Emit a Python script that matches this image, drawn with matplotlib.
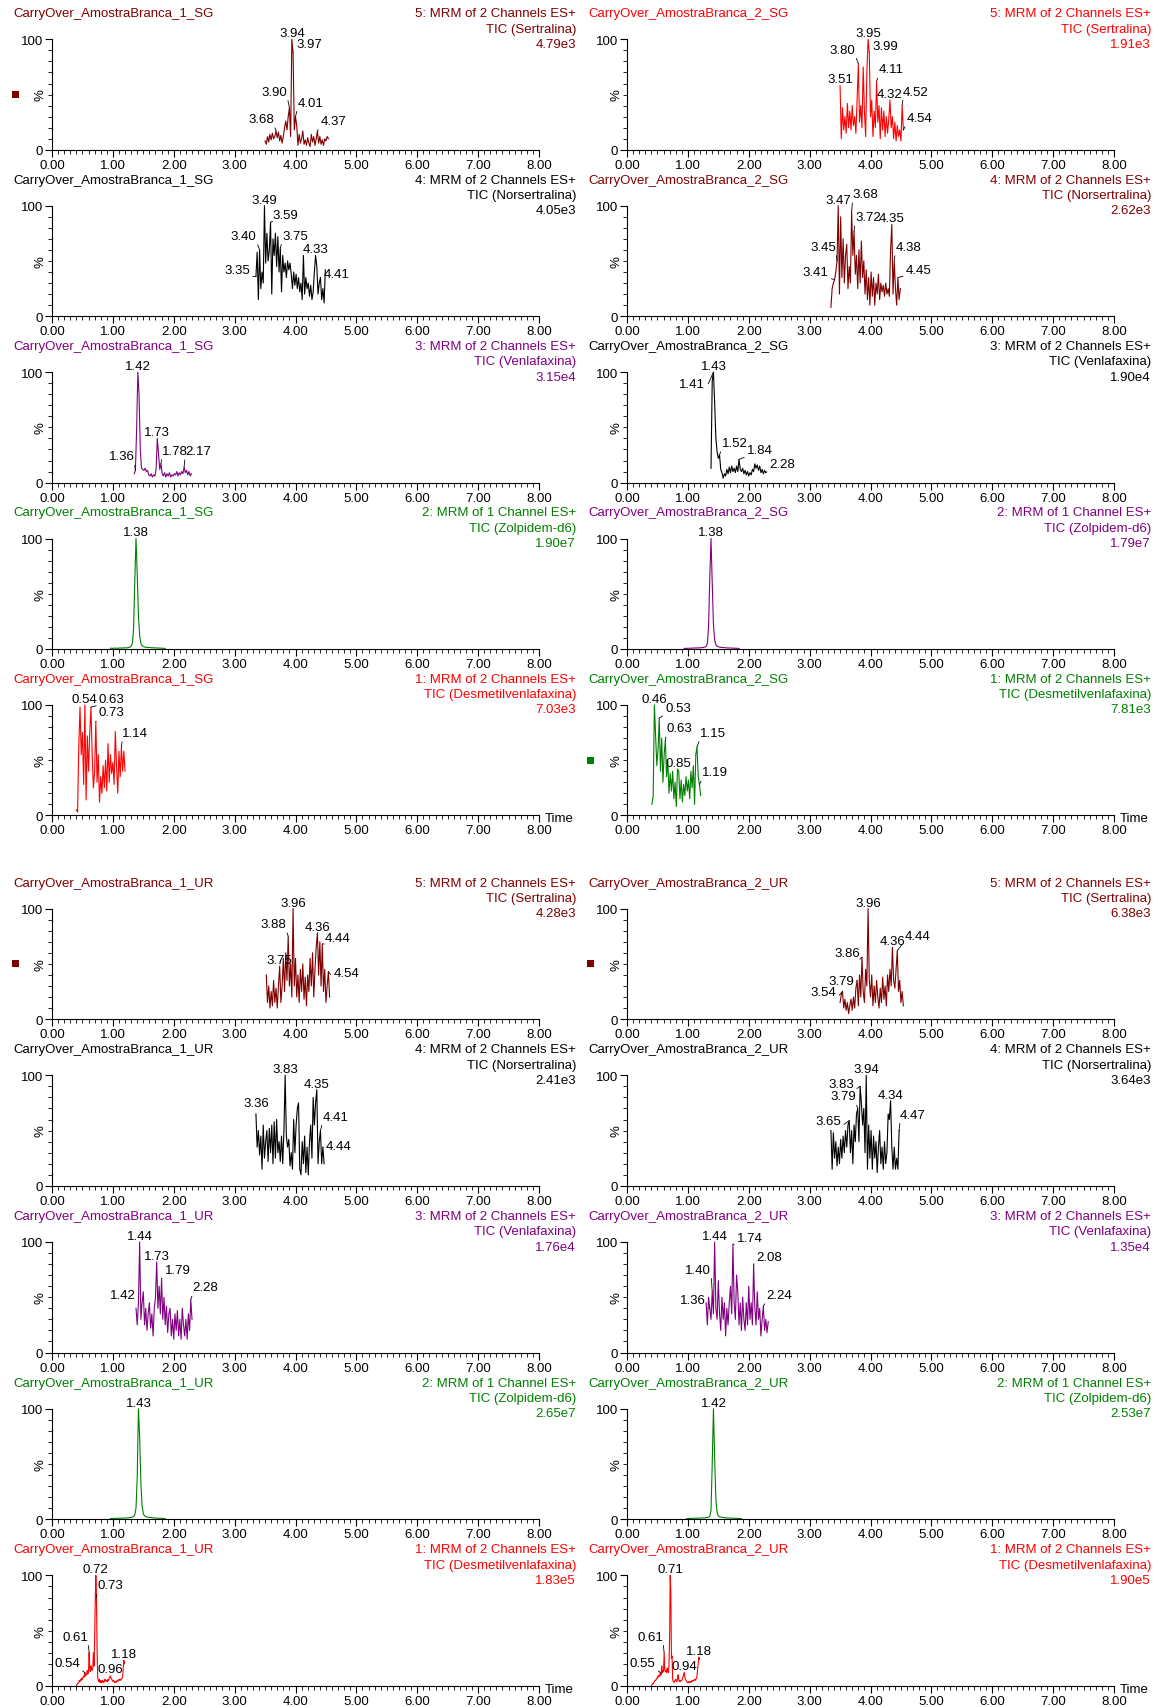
import matplotlib
matplotlib.use('Agg')
import matplotlib.pyplot as plt
from matplotlib.patches import Rectangle
import numpy as np

plt.rcParams['font.family'] = ['Liberation Sans', 'DejaVu Sans']

# ---------------- data (relative intensity %, scan times in min) ----------------
t_sert_1sg = (3.50, 4.54)
sert_1sg = [8, 5, 12, 7, 14, 9, 15, 10, 12, 17, 11, 16, 8, 13, 6, 12, 20, 26, 18, 30,
            38, 12, 100, 88, 18, 30, 22, 4, 14, 6, 10, 17, 5, 9, 4, 11, 6, 3, 14, 7,
            12, 4, 10, 17, 6, 12, 5, 9, 4, 10, 8, 12, 10]
t_sert_2sg = (3.50, 4.54)
sert_2sg = [58, 10, 38, 18, 30, 15, 42, 20, 35, 18, 40, 22, 30, 15, 45, 78, 25, 40, 20, 75,
            35, 12, 70, 100, 88, 30, 45, 12, 35, 20, 62, 25, 40, 10, 38, 18, 35, 12, 30, 15,
            28, 45, 20, 30, 10, 25, 8, 22, 12, 18, 8, 40, 18]
t_nors_1sg = (3.35, 4.49)
nors_1sg = [36, 58, 15, 60, 25, 40, 30, 100, 48, 75, 50, 60, 85, 20, 70, 55, 75, 45, 72, 40,
            62, 22, 55, 40, 48, 35, 50, 42, 48, 38, 25, 40, 28, 38, 25, 35, 22, 30, 15, 55,
            20, 35, 25, 30, 18, 28, 15, 22, 40, 55, 45, 20, 30, 35, 15, 25, 12, 42]
t_nors_2sg = (3.35, 4.49)
nors_2sg = [8, 25, 30, 33, 40, 50, 100, 20, 90, 35, 70, 30, 55, 65, 25, 45, 30, 95, 55, 77,
            38, 55, 25, 60, 30, 68, 35, 50, 20, 42, 15, 35, 10, 40, 18, 35, 10, 30, 20, 38,
            15, 30, 22, 28, 18, 30, 20, 25, 18, 60, 83, 20, 50, 25, 10, 35, 15, 25]
t_venl_1sg = (1.35, 2.29)
venl_1sg = [8, 11, 48, 100, 80, 30, 13, 12, 11, 13, 10, 11, 7, 6, 8, 5, 7, 6, 12, 40,
            26, 12, 17, 8, 6, 9, 5, 8, 6, 9, 5, 7, 6, 8, 7, 10, 6, 9, 7, 10,
            8, 14, 9, 11, 7, 10, 6, 8]
t_venl_2sg = (1.38, 2.28)
venl_2sg = [13, 92, 100, 72, 40, 28, 22, 25, 12, 9, 4, 8, 6, 12, 8, 14, 9, 15, 10, 13,
            9, 15, 10, 21, 12, 10, 13, 8, 11, 7, 10, 6, 9, 7, 12, 10, 17, 13, 16, 11,
            15, 9, 12, 8, 11, 9]
t_zolp_1sg = (0.96, 1.86)
zolp_1sg = [0.6, 0.8, 0.5, 0.7, 0.9, 0.6, 0.8, 0.7, 1.0, 0.8, 0.9, 1.1, 0.9, 1.0, 1.2, 1.4, 1.8,
            2.5, 5, 18, 62, 100, 68, 30, 12, 5, 3, 2.2,
            1.8, 1.6, 1.5, 1.3, 1.4, 1.2, 1.1, 1.2, 1.0, 0.9, 1.0, 0.8, 0.9, 0.7, 0.8, 0.6, 0.7, 0.5]
t_zolp_2sg = (0.94, 1.84)
zolp_2sg = [0.5, 0.6, 0.5, 0.7, 0.6, 0.8, 0.7, 0.9, 0.8, 1.0, 0.9, 1.0, 1.1, 1.0, 1.2, 1.3, 1.5, 1.8, 2.4,
            5, 20, 65, 100, 60, 22, 8, 4,
            2.5, 2.0, 1.8, 1.6, 1.4, 1.3, 1.2, 1.1, 1.0, 1.0, 0.9, 0.9, 0.8, 0.8, 0.7, 0.7, 0.6, 0.6, 0.5]
t_desm_1sg = (0.40, 1.20)
desm_1sg = [5, 3, 62, 98, 55, 75, 28, 100, 14, 72, 40, 75, 98, 55, 25, 40, 85, 30, 55, 12,
            35, 20, 45, 25, 50, 22, 65, 30, 55, 38, 48, 28, 76, 45, 20, 58, 35, 62, 40, 58, 40]
t_desm_2sg = (0.41, 1.21)
desm_2sg = [10, 18, 100, 72, 45, 60, 88, 40, 70, 30, 55, 68, 35, 50, 20, 38, 22, 40, 15, 30,
            8, 42, 40, 15, 32, 12, 28, 18, 35, 22, 32, 15, 40, 25, 45, 10, 55, 62, 35, 28, 18]

t_sert_1ur = (3.52, 4.56)
sert_1ur = [40, 15, 30, 10, 25, 12, 35, 15, 28, 10, 30, 48, 15, 30, 55, 25, 60, 35, 75, 30,
            50, 20, 100, 30, 55, 20, 40, 15, 45, 25, 50, 18, 38, 12, 40, 25, 55, 30, 60, 20,
            45, 65, 78, 40, 70, 30, 68, 25, 45, 15, 30, 43, 20]
t_sert_2ur = (3.50, 4.54)
sert_2ur = [15, 22, 25, 10, 18, 8, 15, 5, 12, 18, 8, 20, 10, 28, 35, 12, 40, 20, 56, 25,
            15, 45, 30, 100, 35, 20, 40, 12, 30, 15, 35, 20, 10, 28, 15, 38, 18, 30, 12, 40,
            25, 45, 30, 65, 35, 28, 45, 62, 25, 35, 15, 25, 12]
t_nors_1ur = (3.35, 4.47)
nors_1ur = [65, 35, 50, 28, 45, 15, 55, 25, 40, 50, 22, 52, 30, 55, 20, 58, 25, 60, 30, 40,
            22, 45, 20, 50, 100, 45, 35, 42, 18, 30, 15, 60, 30, 55, 70, 75, 15, 10, 40, 20,
            45, 12, 35, 10, 40, 55, 25, 80, 55, 75, 87, 20, 40, 50, 20, 35, 20]
t_nors_2ur = (3.35, 4.47)
nors_2ur = [50, 15, 48, 25, 40, 18, 35, 20, 42, 25, 45, 30, 50, 35, 55, 59, 30, 50, 20, 55,
            40, 65, 70, 40, 90, 75, 55, 70, 30, 100, 15, 55, 25, 50, 15, 45, 25, 40, 12, 35,
            50, 20, 35, 15, 40, 20, 30, 65, 60, 77, 35, 15, 35, 15, 25, 15, 50]
t_venl_1ur = (1.38, 2.30)
venl_1ur = [40, 25, 45, 100, 30, 45, 55, 25, 40, 20, 35, 45, 22, 35, 15, 40, 50, 82, 40, 60,
            35, 67, 30, 50, 25, 42, 18, 35, 40, 15, 30, 12, 35, 20, 38, 15, 30, 12, 40, 25,
            15, 30, 12, 35, 20, 48, 30]
t_venl_2ur = (1.30, 2.32)
venl_2ur = [45, 25, 50, 40, 30, 55, 35, 100, 40, 30, 65, 35, 20, 50, 30, 45, 15, 40, 25, 45,
            60, 35, 98, 45, 30, 70, 55, 25, 45, 20, 50, 30, 20, 45, 25, 60, 30, 45, 25, 80,
            40, 25, 55, 30, 40, 15, 30, 42, 20, 30, 18, 28]
t_zolp_1ur = (0.96, 1.86)
zolp_1ur = [0.6, 0.7, 0.5, 0.8, 0.6, 0.9, 0.7, 0.8, 1.0, 0.9, 1.1, 0.9, 1.0, 1.2, 1.1, 1.3, 1.4, 1.6, 1.9, 2.5,
            4, 10, 38, 100, 75, 32, 12, 5, 3,
            2.4, 2.0, 1.8, 1.6, 1.5, 1.4, 1.2, 1.1, 1.0, 1.0, 0.9, 0.8, 0.8, 0.7, 0.7, 0.6, 0.5]
t_zolp_2ur = (0.98, 1.88)
zolp_2ur = [0.5, 0.6, 0.7, 0.6, 0.8, 0.7, 0.9, 0.8, 1.0, 0.9, 1.0, 1.1, 1.0, 1.2, 1.1, 1.3, 1.4, 1.5, 1.8, 2.6,
            8, 50, 100, 55, 18, 6, 3,
            2.2, 1.9, 1.7, 1.5, 1.4, 1.3, 1.2, 1.1, 1.0, 1.0, 0.9, 0.9, 0.8, 0.8, 0.7, 0.7, 0.6, 0.6, 0.5]
t_desm_1ur = (0.40, 1.19)
desm_1ur = [0, 1, 2, 3, 3, 5, 4, 6, 5, 7, 6, 8, 9, 8, 12, 9, 11, 10, 14, 11,
            13, 30, 16, 13, 18, 15, 14, 16, 30, 18, 40, 75, 100, 80, 35, 8, 5, 4, 6, 3,
            5, 4, 3, 5, 4, 3, 4, 6, 5, 4, 5, 4, 6, 5, 7, 8, 9, 7, 6, 5,
            4, 5, 4, 3, 4, 3, 4, 5, 4, 5, 6, 5, 6, 5, 6, 7, 8, 16, 23, 20]
t_desm_2ur = (0.40, 1.19)
desm_2ur = [0, 1, 2, 2, 3, 4, 5, 5, 6, 7, 7, 9, 8, 10, 9, 12, 10, 18, 12, 14,
            13, 30, 15, 13, 14, 12, 16, 13, 12, 20, 45, 100, 85, 25, 27, 6, 4, 3, 4, 5,
            6, 5, 4, 7, 10, 6, 4, 5, 4, 5, 5, 6, 8, 10, 12, 8, 6, 5, 4, 3,
            3, 4, 3, 4, 4, 3, 4, 5, 4, 5, 5, 6, 5, 6, 7, 9, 15, 20, 26, 24]

MAROON, RED, BLACK, PURPLE, GREEN = '#800000', '#ff0000', '#000000', '#800080', '#008000'
HDR = {'sert': ('5: MRM of 2 Channels ES+', 'TIC (Sertralina)'),
       'nors': ('4: MRM of 2 Channels ES+', 'TIC (Norsertralina)'),
       'venl': ('3: MRM of 2 Channels ES+', 'TIC (Venlafaxina)'),
       'zolp': ('2: MRM of 1 Channel ES+', 'TIC (Zolpidem-d6)'),
       'desm': ('1: MRM of 2 Channels ES+', 'TIC (Desmetilvenlafaxina)')}

# (row, col, sample, channel, scale, color, times, values, square, peak labels (text, dx, dy))
panels = [
    (0, 0, 'CarryOver_AmostraBranca_1_SG', 'sert', '4.79e3', MAROON, t_sert_1sg, sert_1sg, True,
     [('3.94', 0, 0), ('3.97', 3, 3), ('3.90', -2, 10), ('4.01', 2, 8), ('3.68', -2, 6), ('4.37', 3, 4)]),
    (0, 1, 'CarryOver_AmostraBranca_2_SG', 'sert', '1.91e3', RED, t_sert_2sg, sert_2sg, False,
     [('3.95', 0, 0), ('3.80', -3, 8), ('3.99', 3, 1), ('4.11', 2, 6), ('3.51', 0, 1),
      ('4.32', 0, 0), ('4.52', 1, 8), ('4.54', 3, 6)]),
    (1, 0, 'CarryOver_AmostraBranca_1_SG', 'nors', '4.05e3', BLACK, t_nors_1sg, nors_1sg, False,
     [('3.49', 0, 0), ('3.59', 2, 1), ('3.40', -3, 8), ('3.75', 2, 6), ('4.33', 0, 0),
      ('3.35', -6, 0), ('4.41', 3, -2)]),
    (1, 1, 'CarryOver_AmostraBranca_2_SG', 'nors', '2.62e3', MAROON, t_nors_2sg, nors_2sg, False,
     [('3.47', 0, 0), ('3.68', 1, 11), ('3.72', 1, 8), ('4.35', 0, 0), ('3.45', -1, 8),
      ('4.38', 1, 8), ('3.41', -6, 2), ('4.45', 8, 2)]),
    (2, 0, 'CarryOver_AmostraBranca_1_SG', 'venl', '3.15e4', PURPLE, t_venl_1sg, venl_1sg, False,
     [('1.42', 0, 0), ('1.73', 0, 0), ('1.36', -1, 8), ('1.78', 1, 7), ('2.17', 1, 10)]),
    (2, 1, 'CarryOver_AmostraBranca_2_SG', 'venl', '1.90e4', BLACK, t_venl_2sg, venl_2sg, False,
     [('1.43', 0, 0), ('1.41', -8, -18), ('1.52', 2, 6), ('1.84', 8, 3), ('2.28', 4, 3)]),
    (3, 0, 'CarryOver_AmostraBranca_1_SG', 'zolp', '1.90e7', GREEN, t_zolp_1sg, zolp_1sg, False,
     [('1.38', 0, 0)]),
    (3, 1, 'CarryOver_AmostraBranca_2_SG', 'zolp', '1.79e7', PURPLE, t_zolp_2sg, zolp_2sg, False,
     [('1.38', 0, 0)]),
    (4, 0, 'CarryOver_AmostraBranca_1_SG', 'desm', '7.03e3', RED, t_desm_1sg, desm_1sg, False,
     [('0.54', 0, 0), ('0.63', 8, 2), ('0.73', 3, 3), ('1.14', 1, 8)]),
    (4, 1, 'CarryOver_AmostraBranca_2_SG', 'desm', '7.81e3', GREEN, t_desm_2sg, desm_2sg, True,
     [('0.46', 0, 0), ('0.53', 6, 4), ('0.63', 1, 6), ('0.85', 0, 2), ('1.15', 3, 8), ('1.19', 3, 6)]),
    (5, 0, 'CarryOver_AmostraBranca_1_UR', 'sert', '4.28e3', MAROON, t_sert_1ur, sert_1ur, True,
     [('3.96', 0, 0), ('3.88', -2, 6), ('4.36', 0, 0), ('4.44', 2, 0), ('3.75', 0, 0), ('4.54', 5, -7)]),
    (5, 1, 'CarryOver_AmostraBranca_2_UR', 'sert', '6.38e3', MAROON, t_sert_2ur, sert_2ur, True,
     [('3.96', 0, 0), ('3.86', -2, -2), ('3.79', -3, -7), ('4.36', 0, 0), ('4.44', 7, 9), ('3.54', -6, -7)]),
    (6, 0, 'CarryOver_AmostraBranca_1_UR', 'nors', '2.41e3', BLACK, t_nors_1ur, nors_1ur, False,
     [('3.83', 0, 0), ('4.35', 0, 0), ('3.36', 0, 5), ('4.41', 2, 8), ('4.44', 3, -5)]),
    (6, 1, 'CarryOver_AmostraBranca_2_UR', 'nors', '3.64e3', BLACK, t_nors_2ur, nors_2ur, False,
     [('3.94', 0, 0), ('3.83', -6, -4), ('4.34', 0, 0), ('3.79', -2, 6), ('3.65', -8, -6), ('4.47', 1, 10)]),
    (7, 0, 'CarryOver_AmostraBranca_1_UR', 'venl', '1.76e4', PURPLE, t_venl_1ur, venl_1ur, False,
     [('1.44', 0, 0), ('1.73', 0, 0), ('1.79', 3, 2), ('1.42', -3, 2), ('2.28', 2, 6)]),
    (7, 1, 'CarryOver_AmostraBranca_2_UR', 'venl', '1.35e4', PURPLE, t_venl_2ur, venl_2ur, False,
     [('1.44', 0, 0), ('1.74', 4, 0), ('2.08', 3, 1), ('1.40', -1, 16), ('1.36', -4, 2), ('2.24', 3, 5)]),
    (8, 0, 'CarryOver_AmostraBranca_1_UR', 'zolp', '2.65e7', GREEN, t_zolp_1ur, zolp_1ur, False,
     [('1.43', 0, 0)]),
    (8, 1, 'CarryOver_AmostraBranca_2_UR', 'zolp', '2.53e7', GREEN, t_zolp_2ur, zolp_2ur, False,
     [('1.42', 0, 0)]),
    (9, 0, 'CarryOver_AmostraBranca_1_UR', 'desm', '1.83e5', RED, t_desm_1ur, desm_1ur, False,
     [('0.72', 0, 0), ('0.73', 1, 6), ('0.61', -1, 10), ('0.54', -5, 4), ('0.96', 0, 1), ('1.18', 0, 0)]),
    (9, 1, 'CarryOver_AmostraBranca_2_UR', 'desm', '1.90e5', RED, t_desm_2ur, desm_2ur, False,
     [('0.71', 0, 0), ('0.61', -1, 10), ('0.55', -5, 4), ('0.94', 0, 1), ('1.18', 0, 0)]),
]

# ---------------- layout (pixels) ----------------
W, H = 1159, 1708
FS = 9.5
col_x = [(52, 539), (627, 1114)]
row_top = [40.3 + 166.4 * i for i in range(5)] + [909.6 + 166.7 * j for j in range(5)]
row_h = 110.5

fig = plt.figure(figsize=(W / 100, H / 100), dpi=100)


def peak_point(t, y, label):
    target = float(label)
    d = np.abs(t - target)
    near = np.where(d <= d.min() + 1e-6)[0]
    i = near[np.argmax(y[near])]
    return t[i], y[i]


for row, col, sample, chan, scale, color, trange, vals, square, labels in panels:
    x0, x1 = col_x[col]
    yt = row_top[row]
    ax = fig.add_axes([x0 / W, 1 - (yt + row_h) / H, (x1 - x0) / W, row_h / H])
    y = np.array(vals, dtype=float)
    t = np.linspace(trange[0], trange[1], len(y))
    ax.plot(t, y, color=color, lw=0.8, clip_on=False)

    ax.set_xlim(0, 8)
    ax.set_ylim(0, 100)
    ax.patch.set_visible(False)
    for s in ['top', 'right']:
        ax.spines[s].set_visible(False)
    for s in ['left', 'bottom']:
        ax.spines[s].set_linewidth(0.8)
    ax.set_xticks(np.arange(0, 8.01, 1.0))
    ax.set_xticklabels([f'{v:.2f}' for v in np.arange(0, 8.01, 1.0)])
    ax.set_xticks(np.arange(0, 8.01, 0.1), minor=True)
    ax.set_yticks([0, 100])
    ax.set_yticks(np.arange(0, 101, 10), minor=True)
    ax.tick_params(which='major', length=5, width=0.8, labelsize=FS, pad=1.5)
    ax.tick_params(which='minor', length=3, width=0.6)

    # headers
    fig.text((x0 - 39) / W, 1 - (yt - 26) / H, sample, color=color,
             fontsize=FS, ha='left', va='center')
    line1, line2 = HDR[chan]
    for k, txt in enumerate([line1, line2, scale]):
        fig.text((x1 + 37) / W, 1 - (yt - 26 + 15.3 * k) / H, txt, color=color,
                 fontsize=FS, ha='right', va='center')
    fig.text((x0 - 11) / W, 1 - (yt + row_h / 2) / H, '%', rotation=90,
             fontsize=FS, ha='center', va='center')
    if square:
        sq = 7
        fig.add_artist(Rectangle(((x0 - 36.5 - sq / 2) / W, 1 - (yt + row_h / 2 + sq / 2) / H),
                                 sq / W, sq / H, transform=fig.transFigure,
                                 facecolor=color, edgecolor='none'))
    if row in (4, 9):
        fig.text((x1 + 6) / W, 1 - (yt + row_h + 3) / H, 'Time', fontsize=FS,
                 ha='left', va='center')

    # peak labels
    for lab, dx, dy in labels:
        px, py = peak_point(t, y, lab)
        if dx > 0:
            ha, rel = 'left', (0, 0)
        elif dx < 0:
            ha, rel = 'right', (1, 0)
        else:
            ha, rel = 'center', (0.5, 0)
        props = None
        if dx != 0:
            props = dict(arrowstyle='-', lw=0.6, color='black', shrinkA=0, shrinkB=0, relpos=rel)
        ax.annotate(lab, (px, py), xytext=(dx, dy), textcoords='offset pixels',
                    ha=ha, va='bottom', fontsize=FS, arrowprops=props,
                    annotation_clip=False)

fig.savefig('out.png', dpi=100)
